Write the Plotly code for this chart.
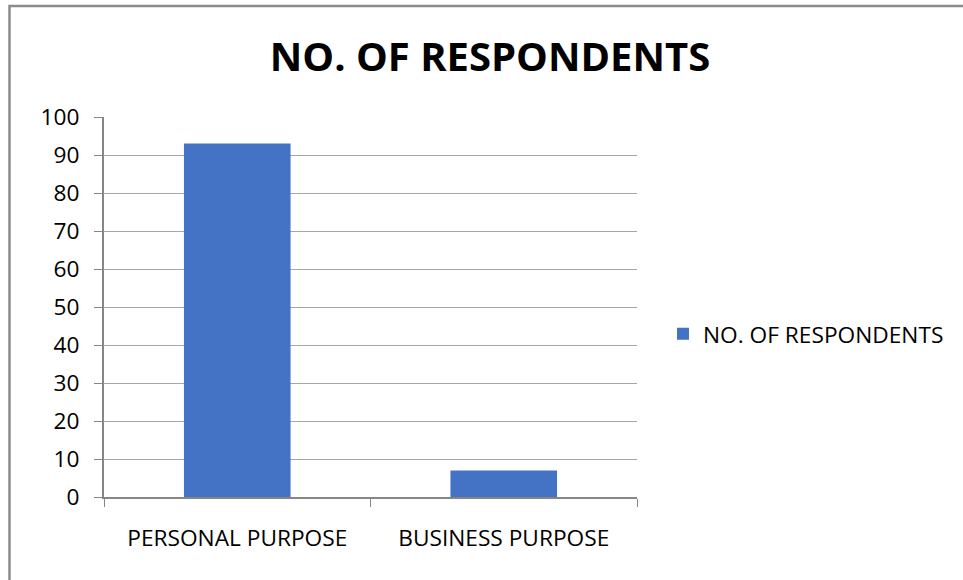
import plotly.graph_objects as go

# Survey results: purpose of use
categories = ["PERSONAL PURPOSE", "BUSINESS PURPOSE"]
respondents = [93, 7]
series_name = "NO. OF RESPONDENTS"
chart_title = "NO. OF RESPONDENTS"
y_ticks = [0, 10, 20, 30, 40, 50, 60, 70, 80, 90, 100]

FONT = "Open Sans, sans-serif"
LABEL_SIZE = 22.7
W, H = 963, 580
L, R, T, B = 104, 326, 117, 83

fig = go.Figure(
    go.Bar(
        x=categories,
        y=respondents,
        name=series_name,
        marker=dict(color="#4472C4", line=dict(width=0)),
        showlegend=True,
    )
)

# outer chart frame (runs off the right and bottom edges)
pw, ph = W - L - R, H - T - B
def px_to_paper_x(px):
    return (px - L) / pw
def px_to_paper_y(py):
    return (H - B - py) / ph

fig.add_shape(
    type="rect", xref="paper", yref="paper",
    x0=px_to_paper_x(9.5), x1=px_to_paper_x(975),
    y0=px_to_paper_y(600), y1=px_to_paper_y(6),
    line=dict(color="#8c8c8c", width=2.5), fillcolor="rgba(0,0,0,0)",
    layer="below",
)

fig.update_layout(
    width=W, height=H,
    margin=dict(l=L, r=R, t=T, b=B),
    paper_bgcolor="white", plot_bgcolor="white",
    bargap=0.6,
    font=dict(family=FONT, color="#000000", size=LABEL_SIZE),
    title=dict(
        text="<b>" + chart_title + "</b>",
        xref="container", x=490 / W, xanchor="center",
        yref="container", y=1 - 57 / H, yanchor="middle",
        font=dict(family=FONT, size=40, color="#000000"),
    ),
    legend=dict(
        x=px_to_paper_x(663), xanchor="left",
        y=px_to_paper_y(334), yanchor="middle",
        font=dict(family=FONT, size=LABEL_SIZE, color="#000000"),
        bgcolor="rgba(0,0,0,0)",
    ),
    xaxis=dict(
        type="category",
        showgrid=False,
        showline=True, linecolor="#868686", linewidth=2,
        ticks="outside", tickson="boundaries", ticklen=8,
        tickcolor="#868686", tickwidth=1,
        ticklabelstandoff=20,
        tickfont=dict(family=FONT, size=LABEL_SIZE, color="#000000"),
    ),
    yaxis=dict(
        range=[0, 100],
        tickvals=y_ticks,
        showgrid=True, gridcolor="#a6a6a6", gridwidth=1,
        showline=True, linecolor="#868686", linewidth=2,
        ticks="outside", ticklen=8, tickcolor="#868686", tickwidth=1,
        ticklabelstandoff=10,
        zeroline=False,
        tickfont=dict(family=FONT, size=LABEL_SIZE, color="#000000"),
    ),
)

fig.write_html("out.html")
